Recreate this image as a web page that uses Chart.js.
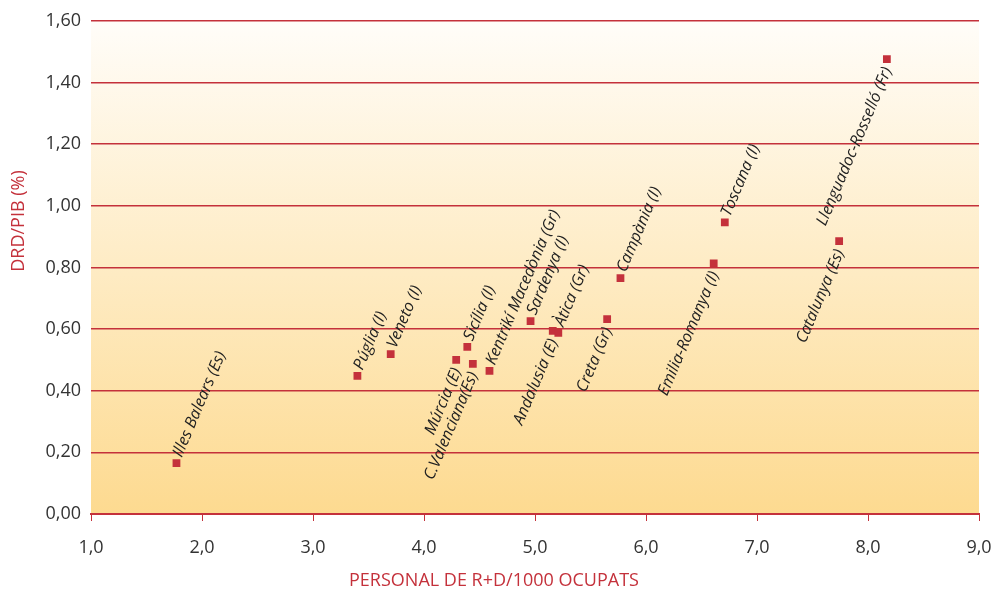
<!DOCTYPE html>
<html>
<head>
<meta charset="utf-8">
<script src="https://cdn.jsdelivr.net/npm/chart.js@4.4.1/dist/chart.umd.min.js"></script>
<style>
  html, body { margin: 0; padding: 0; background: #fff; }
  #wrap { width: 994px; height: 592px; position: relative; }
</style>
</head>
<body>
<div id="wrap"><canvas id="rdChart"></canvas></div>
<script>
// regions, personal R+D per 1000 employed (x) and R+D spend / GDP % (y)
const regions = [
  'Illes Balears (Es)', 'Púglia (I)', 'Veneto (I)', 'Múrcia (E)', 'Sicília (I)',
  'C.Valenciana(Es)', 'Kentrikí Macedònia (Gr)', 'Sardenya (I)', 'Andalusia (E)',
  'Àtica (Gr)', 'Creta (Gr)', 'Campània (I)', 'Emilia-Romanya (I)', 'Toscana (I)',
  'Catalunya (Es)', 'Llenguadoc-Rosselló (Fr)'
];
const personalRD = [1.77, 3.40, 3.70, 4.29, 4.39, 4.44, 4.59, 4.96, 5.16, 5.21, 5.65, 5.77, 6.61, 6.71, 7.74, 8.17];
const drdPib     = [0.165, 0.448, 0.519, 0.500, 0.542, 0.487, 0.464, 0.626, 0.594, 0.588, 0.632, 0.765, 0.813, 0.946, 0.885, 1.476];
// which side of the point the label sits on
const labelSide  = ['up','up','up','down','up','down','up','up','down','up','down','up','down','up','down','down'];

const xTicks = [1, 2, 3, 4, 5, 6, 7, 8, 9];
const yTicks = [0, 0.2, 0.4, 0.6, 0.8, 1.0, 1.2, 1.4, 1.6];

const RED = '#c4313b';
const fmt = (v, d) => v.toFixed(d).replace('.', ',');

const bgPlugin = {
  id: 'bg',
  beforeDraw(chart) {
    const { ctx, chartArea: a } = chart;
    const g = ctx.createLinearGradient(0, a.top, 0, a.bottom);
    g.addColorStop(0, '#fffdf9');
    g.addColorStop(1, '#fdda90');
    ctx.save();
    ctx.fillStyle = g;
    ctx.fillRect(a.left, a.top, a.right - a.left, a.bottom - a.top);
    ctx.restore();
  }
};

const labelPlugin = {
  id: 'pointLabels',
  afterDatasetsDraw(chart) {
    const { ctx } = chart;
    const meta = chart.getDatasetMeta(0);
    ctx.save();
    ctx.font = 'italic 16px "Open Sans"';
    ctx.fillStyle = '#222';
    ctx.textBaseline = 'middle';
    meta.data.forEach((pt, i) => {
      ctx.save();
      if (labelSide[i] === 'up') {
        ctx.translate(pt.x + 1, pt.y - 7);
        ctx.textAlign = 'left';
      } else {
        ctx.translate(pt.x + 1, pt.y + 9);
        ctx.textAlign = 'right';
      }
      ctx.rotate(-67 * Math.PI / 180);
      ctx.fillText(regions[i], 0, 0);
      ctx.restore();
    });
    ctx.restore();
  },
  afterDraw(chart) {
    // axis titles
    const { ctx } = chart;
    ctx.save();
    ctx.fillStyle = RED;
    ctx.font = '18px "Open Sans"';
    ctx.textAlign = 'center';
    ctx.textBaseline = 'middle';
    ctx.fillText('PERSONAL DE R+D/1000 OCUPATS', 494, 581);
    ctx.translate(19, 221);
    ctx.rotate(-Math.PI / 2);
    ctx.fillText('DRD/PIB (%)', 0, 0);
    ctx.restore();
  }
};

new Chart(document.getElementById('rdChart'), {
  type: 'scatter',
  data: {
    datasets: [{
      data: personalRD.map((x, i) => ({ x, y: drdPib[i] })),
      backgroundColor: RED,
      borderColor: RED,
      borderWidth: 0,
      pointStyle: 'rect',
      pointRadius: 5.5,
      pointHoverRadius: 5.5
    }]
  },
  options: {
    responsive: true,
    maintainAspectRatio: false,
    animation: false,
    layout: { padding: { top: 19, right: 0, left: 0, bottom: 0 } },
    plugins: { legend: { display: false }, tooltip: { enabled: false } },
    scales: {
      x: {
        type: 'linear',
        min: 1, max: 9,
        afterBuildTicks: s => { s.ticks = xTicks.map(v => ({ value: v })); },
        afterFit: s => { s.height = 78; s.paddingLeft = 0; s.paddingRight = 15; },
        ticks: {
          color: '#333',
          font: { family: 'Open Sans', size: 18 },
          padding: 16,
          maxRotation: 0,
          callback: v => fmt(v, 1)
        },
        grid: { drawOnChartArea: false, drawTicks: true, tickLength: 7, color: RED, lineWidth: 1 },
        border: { display: true, color: RED, width: 2 }
      },
      y: {
        min: 0, max: 1.6,
        afterBuildTicks: s => { s.ticks = yTicks.map(v => ({ value: v })); },
        afterFit: s => { s.width = 91; },
        ticks: {
          color: '#333',
          font: { family: 'Open Sans', size: 18 },
          padding: 10,
          callback: v => fmt(v, 2)
        },
        grid: { drawTicks: false, color: RED, lineWidth: 1.4 },
        border: { display: false }
      }
    }
  },
  plugins: [bgPlugin, labelPlugin]
});
</script>
</body>
</html>
